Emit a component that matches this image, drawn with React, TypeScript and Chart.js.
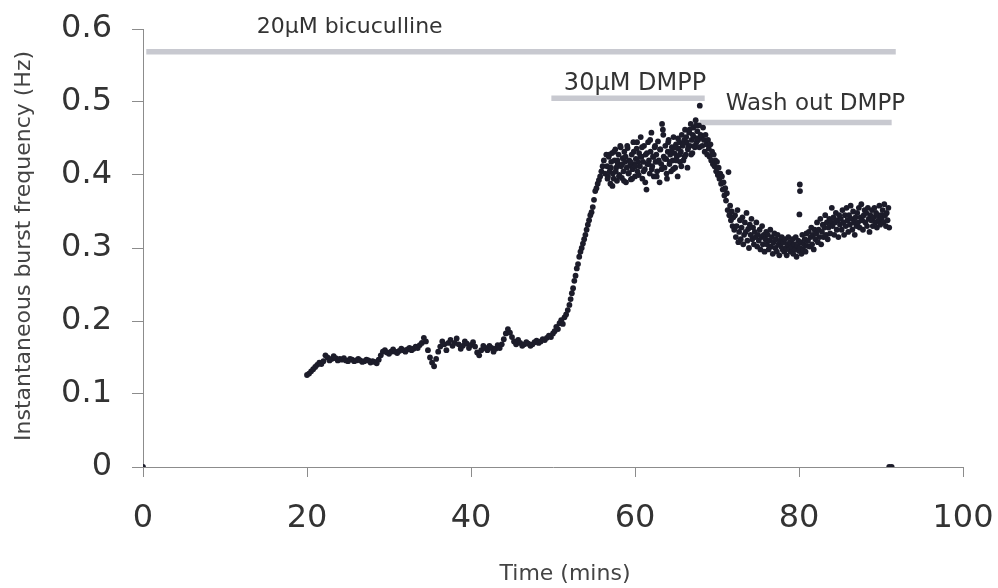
import { useEffect, useRef } from 'react';
import { Chart, registerables } from 'chart.js';

Chart.register(...registerables);

// ---- axis ticks ----
const xTickValues = [0, 20, 40, 60, 80, 100];
const yTickValues = [0, 0.1, 0.2, 0.3, 0.4, 0.5, 0.6];
const yTickLabels = ['0', '0.1', '0.2', '0.3', '0.4', '0.5', '0.6'];
const xTitle = 'Time (mins)';
const yTitle = 'Instantaneous burst frequency (Hz)';

// ---- treatment bars ----
const barNames = ['20\u03bcM bicuculline', '30\u03bcM DMPP', 'Wash out DMPP'];
const barStart = [0.4, 49.8, 67.9];
const barEnd = [91.8, 68.5, 91.3];
const barLevel = [0.569, 0.505, 0.472];
const barTextAt = [25.2, 60.0, 82.0];
const barTextLevel = [0.595, 0.517, 0.489];

// ---- data: [time (mins), instantaneous burst frequency (Hz)] ----
const zeroPoints: [number, number][] = [[0, 0], [91.0, 0], [91.3, 0]];

const baseline: [number, number][] = [
  [20.0, 0.126], [20.25, 0.128], [20.5, 0.131], [20.75, 0.134], [21.0, 0.137], [21.25, 0.140], [21.5, 0.143], [21.75, 0.141],
  [22.0, 0.145], [22.25, 0.153], [22.5, 0.150], [22.75, 0.146], [23.0, 0.148], [23.25, 0.152], [23.5, 0.149], [23.75, 0.146],
  [24.0, 0.148], [24.25, 0.147], [24.5, 0.149], [24.75, 0.146], [25.0, 0.145], [25.25, 0.148], [25.5, 0.147], [25.75, 0.145],
  [26.0, 0.146], [26.25, 0.148], [26.5, 0.146], [26.75, 0.144], [27.0, 0.145], [27.25, 0.147], [27.5, 0.146], [27.75, 0.143],
  [28.0, 0.145], [28.25, 0.144], [28.5, 0.142], [28.75, 0.147], [29.0, 0.153], [29.25, 0.158], [29.5, 0.160], [29.75, 0.157],
  [30.0, 0.155], [30.25, 0.158], [30.5, 0.161], [30.75, 0.158], [31.0, 0.156], [31.25, 0.159], [31.5, 0.162], [31.75, 0.160],
  [32.0, 0.158], [32.25, 0.161], [32.5, 0.163], [32.75, 0.160], [33.0, 0.162], [33.25, 0.165], [33.5, 0.163], [33.75, 0.167],
  [34.0, 0.170], [34.25, 0.177], [34.5, 0.172], [34.75, 0.160], [35.0, 0.150], [35.25, 0.143], [35.5, 0.138], [35.75, 0.148],
  [36.0, 0.158], [36.25, 0.165], [36.5, 0.172], [36.75, 0.168], [37.0, 0.160], [37.25, 0.170], [37.5, 0.174], [37.75, 0.166],
  [38.0, 0.170], [38.25, 0.176], [38.5, 0.168], [38.75, 0.162], [39.0, 0.166], [39.25, 0.172], [39.5, 0.169], [39.75, 0.163],
  [40.0, 0.167], [40.25, 0.171], [40.5, 0.165], [40.75, 0.157], [41.0, 0.153], [41.25, 0.160], [41.5, 0.166], [41.75, 0.163],
  [42.0, 0.160], [42.25, 0.166], [42.5, 0.163], [42.75, 0.158], [43.0, 0.162], [43.25, 0.167], [43.5, 0.163], [43.75, 0.168],
  [44.0, 0.175], [44.25, 0.183], [44.5, 0.189], [44.75, 0.184], [45.0, 0.178], [45.25, 0.172], [45.5, 0.168], [45.75, 0.174],
  [46.0, 0.170], [46.25, 0.166], [46.5, 0.168], [46.75, 0.171], [47.0, 0.169], [47.25, 0.166], [47.5, 0.168], [47.75, 0.171],
  [48.0, 0.173], [48.25, 0.170], [48.5, 0.172], [48.75, 0.175], [49.0, 0.174], [49.25, 0.177], [49.5, 0.180], [49.75, 0.178],
  [50.0, 0.183],
];

const rise: [number, number][] = [
  [50.2, 0.186], [50.4, 0.192], [50.6, 0.189], [50.8, 0.197], [51.0, 0.201], [51.2, 0.196], [51.4, 0.205], [51.6, 0.209],
  [51.8, 0.215], [52.0, 0.222], [52.15, 0.230], [52.3, 0.238], [52.45, 0.245], [52.6, 0.255], [52.75, 0.262], [52.9, 0.272],
  [53.05, 0.278], [53.2, 0.288], [53.35, 0.295], [53.5, 0.300], [53.65, 0.306], [53.8, 0.312], [53.95, 0.318], [54.1, 0.325],
  [54.25, 0.332], [54.4, 0.338], [54.55, 0.345], [54.7, 0.349], [54.85, 0.356], [55.0, 0.366], [55.15, 0.378], [55.3, 0.382],
  [55.45, 0.388], [55.6, 0.393], [55.75, 0.398], [55.9, 0.405], [56.05, 0.412], [56.2, 0.420], [56.35, 0.402], [56.5, 0.428],
];

const plateau: [number, number][] = [
  [56.6, 0.412], [56.7, 0.398], [56.8, 0.425], [56.9, 0.405], [57.0, 0.388], [57.1, 0.418], [57.2, 0.430], [57.3, 0.402], [57.4, 0.395], [57.5, 0.420],
  [57.6, 0.435], [57.7, 0.410], [57.8, 0.392], [57.9, 0.415], [58.0, 0.428], [58.1, 0.400], [58.2, 0.440], [58.3, 0.412], [58.4, 0.396], [58.5, 0.423],
  [58.6, 0.405], [58.7, 0.432], [58.8, 0.418], [58.9, 0.390], [59.0, 0.410], [59.1, 0.437], [59.2, 0.402], [59.3, 0.420], [59.4, 0.413], [59.5, 0.394],
  [59.6, 0.428], [59.7, 0.408], [59.8, 0.445], [59.9, 0.415], [60.0, 0.398], [60.1, 0.422], [60.2, 0.436], [60.3, 0.405], [60.4, 0.418], [60.5, 0.430],
  [60.6, 0.412], [60.7, 0.452], [60.8, 0.425], [60.9, 0.395], [61.0, 0.418], [61.1, 0.440], [61.2, 0.408], [61.3, 0.428], [61.4, 0.380], [61.5, 0.415],
  [61.6, 0.445], [61.7, 0.420], [61.8, 0.402], [61.9, 0.432], [62.0, 0.458], [62.1, 0.412], [62.2, 0.425], [62.3, 0.398], [62.4, 0.438], [62.5, 0.418],
  [62.6, 0.428], [62.7, 0.405], [62.8, 0.446], [62.9, 0.420], [63.0, 0.390], [63.1, 0.435], [63.2, 0.415], [63.3, 0.470], [63.4, 0.462], [63.5, 0.425],
  [63.6, 0.410], [63.7, 0.440], [63.8, 0.422], [63.9, 0.395], [64.0, 0.432], [64.1, 0.448], [64.2, 0.415], [64.3, 0.428], [64.4, 0.405], [64.5, 0.438],
  [64.6, 0.420], [64.7, 0.452], [64.8, 0.430], [64.9, 0.410], [65.0, 0.442], [65.1, 0.425], [65.2, 0.398], [65.3, 0.436], [65.4, 0.445], [65.5, 0.418],
  [65.6, 0.432], [65.7, 0.455], [65.8, 0.440], [65.9, 0.420], [66.0, 0.448], [66.1, 0.462], [66.2, 0.428], [66.3, 0.445], [66.4, 0.410], [66.5, 0.438],
  [66.6, 0.458], [66.7, 0.440], [66.8, 0.470], [66.9, 0.448], [67.0, 0.430], [67.1, 0.465], [67.2, 0.452], [67.3, 0.438], [67.4, 0.475], [67.5, 0.445],
  [67.6, 0.460], [67.7, 0.448], [67.8, 0.468], [67.9, 0.495], [68.0, 0.455],
];

const plateauB: [number, number][] = [
  [56.65, 0.395], [56.85, 0.428], [57.05, 0.410], [57.25, 0.385], [57.45, 0.432], [57.65, 0.405], [57.85, 0.420], [58.05, 0.398],
  [58.25, 0.438], [58.45, 0.415], [58.65, 0.392], [58.85, 0.425], [59.05, 0.440], [59.25, 0.403], [59.45, 0.418], [59.65, 0.395],
  [59.85, 0.432], [60.05, 0.412], [60.25, 0.445], [60.45, 0.400], [60.65, 0.425], [60.85, 0.438], [61.05, 0.405], [61.25, 0.390],
  [61.45, 0.430], [61.65, 0.415], [61.85, 0.448], [62.05, 0.408], [62.25, 0.425], [62.45, 0.440], [62.65, 0.398], [62.85, 0.418],
  [63.05, 0.435], [63.25, 0.408], [63.45, 0.455], [63.65, 0.422], [63.85, 0.402], [64.05, 0.445], [64.25, 0.418], [64.45, 0.432],
  [64.65, 0.408], [64.85, 0.438], [65.05, 0.420], [65.25, 0.450], [65.45, 0.428], [65.65, 0.412], [65.85, 0.442], [66.05, 0.425],
  [66.25, 0.452], [66.45, 0.435], [66.65, 0.462], [66.85, 0.428], [67.05, 0.455], [67.25, 0.440], [67.45, 0.468], [67.65, 0.450],
  [67.85, 0.438],
];

const decline: [number, number][] = [
  [68.1, 0.452], [68.2, 0.440], [68.3, 0.465], [68.4, 0.448], [68.5, 0.432], [68.6, 0.455], [68.7, 0.442], [68.8, 0.428], [68.9, 0.448], [69.0, 0.436],
  [69.1, 0.425], [69.2, 0.442], [69.3, 0.420], [69.4, 0.432], [69.5, 0.415], [69.6, 0.428], [69.7, 0.412], [69.8, 0.420], [69.9, 0.405], [70.0, 0.418],
  [70.1, 0.400], [70.2, 0.410], [70.3, 0.395], [70.4, 0.402], [70.5, 0.388], [70.6, 0.398], [70.7, 0.380], [70.8, 0.390], [70.9, 0.372], [71.0, 0.382],
  [71.1, 0.365], [71.2, 0.375], [71.3, 0.352], [71.4, 0.404], [71.5, 0.345], [71.6, 0.358], [71.7, 0.338], [71.8, 0.350], [71.9, 0.330], [72.0, 0.342],
];

const trough: [number, number][] = [
  [72.1, 0.325], [72.2, 0.345], [72.3, 0.315], [72.4, 0.330], [72.5, 0.352], [72.6, 0.308], [72.7, 0.322], [72.8, 0.338], [72.9, 0.312], [73.0, 0.328],
  [73.1, 0.342], [73.2, 0.305], [73.3, 0.318], [73.4, 0.335], [73.5, 0.322], [73.6, 0.348], [73.7, 0.310], [73.8, 0.326], [73.9, 0.300], [74.0, 0.332],
  [74.1, 0.318], [74.2, 0.340], [74.3, 0.312], [74.4, 0.328], [74.5, 0.305], [74.6, 0.322], [74.7, 0.315], [74.8, 0.335], [74.9, 0.302], [75.0, 0.318],
  [75.1, 0.310], [75.2, 0.325], [75.3, 0.298], [75.4, 0.315], [75.5, 0.330], [75.6, 0.305], [75.7, 0.318], [75.8, 0.295], [75.9, 0.312], [76.0, 0.322],
  [76.1, 0.305], [76.2, 0.318], [76.3, 0.298], [76.4, 0.310], [76.5, 0.325], [76.6, 0.302], [76.7, 0.315], [76.8, 0.292], [76.9, 0.308], [77.0, 0.320],
  [77.1, 0.300], [77.2, 0.312], [77.3, 0.295], [77.4, 0.318], [77.5, 0.305], [77.6, 0.290], [77.7, 0.310], [77.8, 0.302], [77.9, 0.315], [78.0, 0.298],
  [78.1, 0.308], [78.2, 0.295], [78.3, 0.312], [78.4, 0.300], [78.5, 0.290], [78.6, 0.305], [78.7, 0.315], [78.8, 0.298], [78.9, 0.308], [79.0, 0.295],
  [79.1, 0.302], [79.2, 0.312], [79.3, 0.292], [79.4, 0.305], [79.5, 0.298], [79.6, 0.315], [79.7, 0.288], [79.8, 0.303], [79.9, 0.310], [80.0, 0.296],
  [80.1, 0.387], [80.12, 0.378], [80.05, 0.346],
  [80.1, 0.300], [80.2, 0.308], [80.3, 0.292], [80.4, 0.318], [80.5, 0.298], [80.6, 0.305], [80.7, 0.312], [80.8, 0.295], [80.9, 0.320], [81.0, 0.303],
];

const recovery: [number, number][] = [
  [81.1, 0.310], [81.2, 0.322], [81.3, 0.302], [81.4, 0.315], [81.5, 0.328], [81.6, 0.305], [81.7, 0.318], [81.8, 0.298], [81.9, 0.325], [82.0, 0.312],
  [82.1, 0.320], [82.2, 0.335], [82.3, 0.308], [82.4, 0.325], [82.5, 0.315], [82.6, 0.340], [82.7, 0.305], [82.8, 0.322], [82.9, 0.332], [83.0, 0.315],
  [83.1, 0.328], [83.2, 0.345], [83.3, 0.318], [83.4, 0.335], [83.5, 0.312], [83.6, 0.328], [83.7, 0.340], [83.8, 0.320], [83.9, 0.335], [84.0, 0.355],
  [84.1, 0.330], [84.2, 0.342], [84.3, 0.318], [84.4, 0.335], [84.5, 0.348], [84.6, 0.325], [84.7, 0.338], [84.8, 0.315], [84.9, 0.345], [85.0, 0.332],
  [85.1, 0.340], [85.2, 0.325], [85.3, 0.352], [85.4, 0.335], [85.5, 0.318], [85.6, 0.345], [85.7, 0.330], [85.8, 0.355], [85.9, 0.338], [86.0, 0.322],
  [86.1, 0.345], [86.2, 0.332], [86.3, 0.358], [86.4, 0.340], [86.5, 0.325], [86.6, 0.350], [86.7, 0.335], [86.8, 0.318], [86.9, 0.342], [87.0, 0.330],
  [87.1, 0.348], [87.2, 0.335], [87.3, 0.355], [87.4, 0.328], [87.5, 0.342], [87.6, 0.360], [87.7, 0.338], [87.8, 0.325], [87.9, 0.345], [88.0, 0.352],
  [88.1, 0.335], [88.2, 0.348], [88.3, 0.330], [88.4, 0.355], [88.5, 0.340], [88.6, 0.322], [88.7, 0.345], [88.8, 0.338], [88.9, 0.352], [89.0, 0.330],
  [89.1, 0.342], [89.2, 0.355], [89.3, 0.335], [89.4, 0.348], [89.5, 0.328], [89.6, 0.345], [89.7, 0.338], [89.8, 0.358], [89.9, 0.332], [90.0, 0.345],
  [90.1, 0.340], [90.2, 0.352], [90.3, 0.335], [90.4, 0.360], [90.5, 0.345], [90.6, 0.330], [90.7, 0.348], [90.8, 0.338], [90.9, 0.355], [91.0, 0.328],
];

const FONT = '"DejaVu Sans", "Liberation Sans", Arial, sans-serif';
const barTextSize = [22, 24, 23];

const textPlugin = {
  id: 'figureTexts',
  afterDraw(chart: any) {
    const { ctx, chartArea, scales } = chart;
    const xs = scales.x;
    const ys = scales.y;
    ctx.save();
    ctx.fillStyle = '#333';
    ctx.textAlign = 'center';
    ctx.textBaseline = 'alphabetic';
    barNames.forEach((name, i) => {
      ctx.font = `${barTextSize[i]}px ${FONT}`;
      ctx.fillText(name, xs.getPixelForValue(barTextAt[i]), ys.getPixelForValue(barTextLevel[i]));
    });
    ctx.fillStyle = '#444';
    ctx.font = `22px ${FONT}`;
    ctx.textBaseline = 'middle';
    ctx.fillText(xTitle, (chartArea.left + chartArea.right) / 2 + 12, 574);
    ctx.translate(24, (chartArea.top + chartArea.bottom) / 2 - 2);
    ctx.rotate(-Math.PI / 2);
    ctx.fillText(yTitle, 0, 0);
    ctx.restore();
  },
};

export default function App() {
  const ref = useRef<HTMLCanvasElement | null>(null);

  useEffect(() => {
    if (!ref.current) return;
    const points = [
      ...zeroPoints, ...baseline, ...rise, ...plateau, ...plateauB, ...decline, ...trough, ...recovery,
    ].map(([t, f]) => ({ x: t, y: f }));

    const barSets = barNames.map((name, i) => ({
      label: name,
      data: [{ x: barStart[i], y: barLevel[i] }, { x: barEnd[i], y: barLevel[i] }],
      showLine: true,
      borderColor: '#c8c9d0',
      borderWidth: 5.5,
      borderCapStyle: 'butt' as const,
      pointRadius: 0,
      fill: false,
    }));

    const chart = new Chart(ref.current, {
      type: 'scatter',
      data: {
        datasets: [
          {
            label: 'Instantaneous burst frequency',
            data: points,
            pointRadius: 2.9,
            pointBorderWidth: 0,
            pointBackgroundColor: '#1c1c2a',
            pointBorderColor: '#1c1c2a',
            showLine: false,
          },
          ...barSets,
        ],
      },
      options: {
        responsive: false,
        animation: false,
        layout: { padding: { top: 29, right: 35, left: 0, bottom: 0 } },
        plugins: { legend: { display: false }, tooltip: { enabled: false } },
        scales: {
          x: {
            type: 'linear',
            min: 0,
            max: 100,
            afterBuildTicks: (s: any) => { s.ticks = xTickValues.map((v) => ({ value: v })); },
            afterFit: (s: any) => { s.height = 121; s.paddingLeft = 0; s.paddingRight = 0; },
            ticks: { font: { family: FONT, size: 32 }, color: '#333', padding: 22, maxRotation: 0 },
            grid: { drawOnChartArea: false, drawTicks: true, tickLength: 10, color: '#8c8c8c' },
            border: { display: true, color: '#8c8c8c', width: 1 },
          },
          y: {
            type: 'linear',
            min: 0,
            max: 0.6,
            afterBuildTicks: (s: any) => { s.ticks = yTickValues.map((v) => ({ value: v })); },
            afterFit: (s: any) => { s.width = 143; s.paddingTop = 0; s.paddingBottom = 0; },
            ticks: {
              font: { family: FONT, size: 32 },
              color: '#333',
              padding: 20,
              callback: (_v: any, i: number) => yTickLabels[i],
            },
            grid: { drawOnChartArea: false, drawTicks: true, tickLength: 11, color: '#8c8c8c' },
            border: { display: true, color: '#8c8c8c', width: 1 },
          },
        },
      },
      plugins: [textPlugin],
    });
    return () => chart.destroy();
  }, []);

  return (
    <div style={{ position: 'absolute', left: 0, top: 0, width: 998, height: 588, background: '#fff' }}>
      <canvas ref={ref} width={998} height={588} style={{ display: 'block' }} />
    </div>
  );
}
